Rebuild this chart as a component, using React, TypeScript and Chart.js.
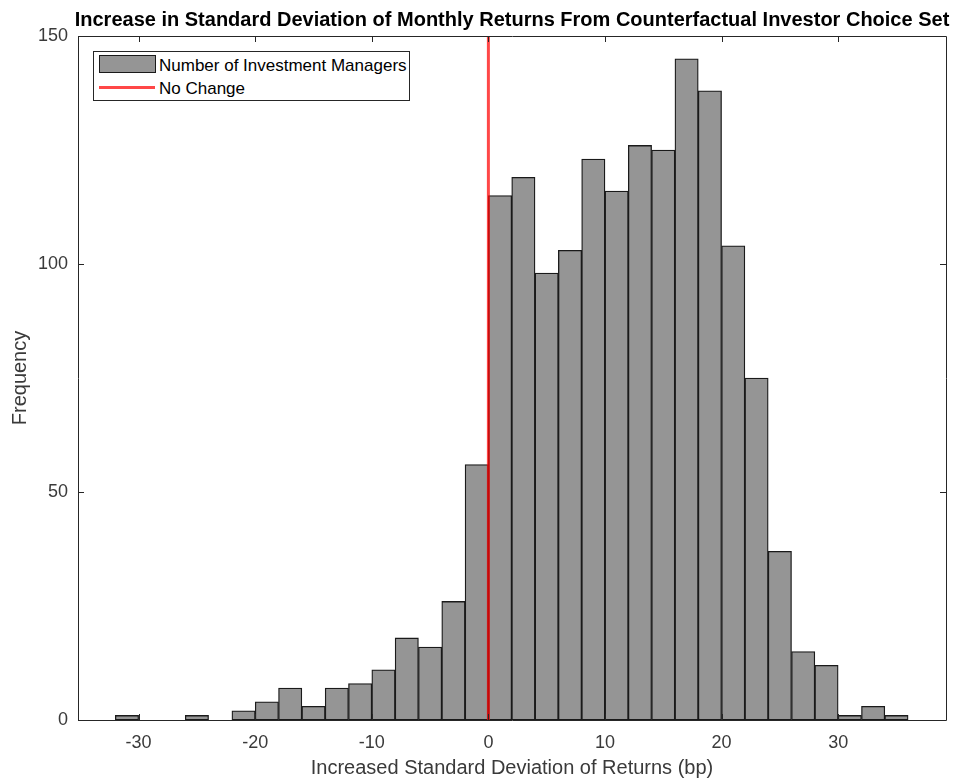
import React, { useEffect, useRef } from "react";
import { Chart, registerables } from "chart.js";

Chart.register(...registerables);

// Histogram bins (centers, bin width 2 bp) and counts
const binCenters = [-31, -29, -27, -25, -23, -21, -19, -17, -15, -13, -11, -9, -7, -5, -3, -1, 1, 3, 5, 7, 9, 11, 13, 15, 17, 19, 21, 23, 25, 27, 29, 31, 33, 35];
const counts = [1, 0, 0, 1, 0, 2, 4, 7, 3, 7, 8, 11, 18, 16, 26, 56, 115, 119, 98, 103, 123, 116, 126, 125, 145, 138, 104, 75, 37, 15, 12, 1, 3, 1];
const xTicks = [-30, -20, -10, 0, 10, 20, 30];
const yTicks = [0, 50, 100, 150];
const noChangeX = [0, 0];
const noChangeY = [0, 150];

const titleText = "Increase in Standard Deviation of Monthly Returns From Counterfactual Investor Choice Set";
const xTitle = "Increased Standard Deviation of Returns (bp)";
const yTitle = "Frequency";
const barLabel = "Number of Investment Managers";
const lineLabel = "No Change";

const FONT = "'Liberation Sans', Arial, Helvetica, sans-serif";
const AXIS = "#262626";

const boxPlugin = {
  id: "matlabBox",
  afterDraw(chart: any) {
    const { ctx, chartArea } = chart;
    const { left, right, top, bottom } = chartArea;
    const xs = chart.scales.x;
    const ys = chart.scales.y;
    ctx.save();
    ctx.strokeStyle = AXIS;
    ctx.lineWidth = 1;
    ctx.beginPath();
    ctx.rect(Math.round(left) + 0.5, Math.round(top) + 0.5, Math.round(right - left), Math.round(bottom - top));
    ctx.stroke();
    const tl = 6;
    ctx.beginPath();
    xTicks.forEach((v) => {
      const px = Math.round(xs.getPixelForValue(v)) + 0.5;
      ctx.moveTo(px, bottom);
      ctx.lineTo(px, bottom - tl);
      ctx.moveTo(px, top);
      ctx.lineTo(px, top + tl);
    });
    yTicks.forEach((v) => {
      const py = Math.round(ys.getPixelForValue(v)) + 0.5;
      ctx.moveTo(left, py);
      ctx.lineTo(left + tl, py);
      ctx.moveTo(right, py);
      ctx.lineTo(right - tl, py);
    });
    ctx.stroke();
    ctx.restore();
  },
};

export default function App() {
  const ref = useRef<HTMLCanvasElement | null>(null);

  useEffect(() => {
    document.body.style.margin = "0";
    const canvas = ref.current;
    if (!canvas) return;
    const chart = new Chart(canvas, {
      type: "bar",
      data: {
        datasets: [
          {
            type: "line" as const,
            label: lineLabel,
            data: noChangeX.map((x, i) => ({ x, y: noChangeY[i] })),
            borderColor: "rgba(255,0,0,0.72)",
            borderWidth: 3,
            pointRadius: 0,
            order: 1,
          } as any,
          {
            type: "bar" as const,
            label: barLabel,
            data: binCenters.map((x, i) => ({ x, y: counts[i] })),
            backgroundColor: "#959595",
            borderColor: "#1a1a1a",
            borderWidth: 1.3,
            borderSkipped: false,
            barPercentage: 1,
            categoryPercentage: 1,
            grouped: false,
            order: 2,
          } as any,
        ],
      },
      options: {
        responsive: false,
        animation: false,
        layout: { padding: { top: 36, right: 21, left: 0, bottom: 0 } },
        plugins: {
          legend: { display: false },
          tooltip: { enabled: false },
          title: { display: false },
        },
        scales: {
          x: {
            type: "linear",
            min: -35.2,
            max: 39.25,
            offset: false,
            grid: { display: false, drawTicks: false, offset: false },
            border: { display: false },
            afterBuildTicks: (s: any) => {
              s.ticks = xTicks.map((v) => ({ value: v }));
            },
            afterFit: (s: any) => {
              s.height = 64;
            },
            ticks: {
              padding: 12,
              color: "#3a3a3a",
              font: { family: FONT, size: 18 },
              maxRotation: 0,
              autoSkip: false,
            },
            title: {
              display: true,
              text: xTitle,
              color: "#3a3a3a",
              font: { family: FONT, size: 20 },
              padding: { top: 0, bottom: 4 },
            },
          },
          y: {
            type: "linear",
            min: 0,
            max: 150,
            grid: { display: false, drawTicks: false },
            border: { display: false },
            afterBuildTicks: (s: any) => {
              s.ticks = yTicks.map((v) => ({ value: v }));
            },
            afterFit: (s: any) => {
              s.width = 78;
            },
            ticks: {
              padding: 10,
              color: "#3a3a3a",
              font: { family: FONT, size: 18 },
            },
            title: {
              display: true,
              text: yTitle,
              color: "#3a3a3a",
              font: { family: FONT, size: 20 },
              padding: { top: 8, bottom: 0 },
            },
          },
        },
      },
      plugins: [boxPlugin],
    });
    return () => chart.destroy();
  }, []);

  return (
    <div style={{ position: "relative", width: 967, height: 784, background: "#fff", fontFamily: FONT }}>
      <canvas ref={ref} width={967} height={784} style={{ display: "block", width: 967, height: 784 }} />
      <div
        style={{
          position: "absolute",
          left: 0,
          width: 1024,
          top: 7,
          textAlign: "center",
          fontWeight: "bold",
          fontSize: 20,
          color: "#000",
          whiteSpace: "nowrap",
          lineHeight: "24px",
        }}
      >
        {titleText}
      </div>
      <div
        style={{
          position: "absolute",
          left: 93,
          top: 51,
          width: 315,
          height: 48,
          border: `1px solid ${AXIS}`,
          background: "#fff",
          fontSize: 17,
          color: "#000",
        }}
      >
        <div style={{ position: "absolute", left: 5, top: 3, width: 55, height: 16, background: "#959595", border: "1px solid #1a1a1a" }} />
        <div style={{ position: "absolute", left: 65, top: 4, lineHeight: "19px", whiteSpace: "nowrap" }}>{barLabel}</div>
        <div style={{ position: "absolute", left: 5, top: 34, width: 56, height: 3, background: "rgba(255,0,0,0.72)" }} />
        <div style={{ position: "absolute", left: 65, top: 27, lineHeight: "19px", whiteSpace: "nowrap" }}>{lineLabel}</div>
      </div>
    </div>
  );
}
